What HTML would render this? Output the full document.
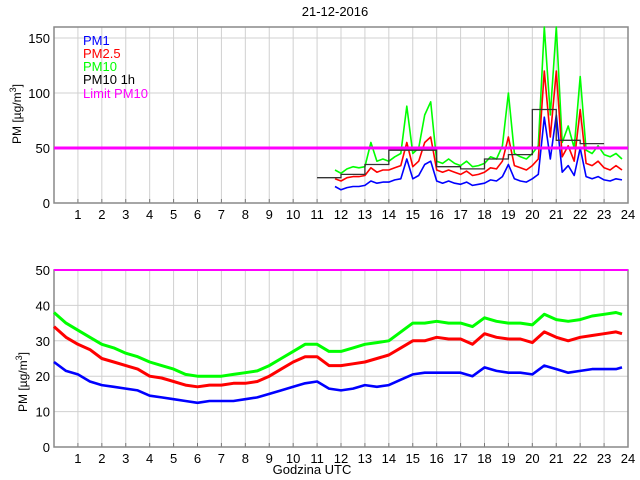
<!DOCTYPE html>
<html><head><meta charset="utf-8"><style>
body{margin:0;background:#fff}
svg{display:block;font-family:"Liberation Sans",sans-serif}
</style></head><body>
<svg id="c" width="640" height="480" xmlns="http://www.w3.org/2000/svg"></svg>
<script>
const hourTicks=[1,2,3,4,5,6,7,8,9,10,11,12,13,14,15,16,17,18,19,20,21,22,23,24];
const topYTicks=[0,50,100,150];
const botYTicks=[0,10,20,30,40,50];
const limitPM10=50;
const topHours=[11.75,12,12.25,12.5,12.75,13,13.25,13.5,13.75,14,14.25,14.5,14.75,15,15.25,15.5,15.75,16,16.25,16.5,16.75,17,17.25,17.5,17.75,18,18.25,18.5,18.75,19,19.25,19.5,19.75,20,20.25,20.5,20.75,21,21.25,21.5,21.75,22,22.25,22.5,22.75,23,23.25,23.5,23.75];
const topPM10=[30,27,31,33,32,33,55,38,40,38,42,45,88,45,50,80,92,38,36,40,36,34,38,33,34,36,42,40,52,100,45,42,40,45,52,160,80,160,55,70,50,115,48,45,52,44,42,45,40];
const topPM25=[22,20,23,24,24,25,32,28,30,30,32,34,55,33,38,55,60,30,28,30,28,26,29,25,26,28,32,31,38,60,34,32,30,34,40,120,60,120,42,52,38,85,36,34,38,32,30,34,30];
const topPM1=[15,12,14,15,15,16,20,18,19,19,21,22,40,22,25,35,38,20,18,20,18,17,19,16,17,18,21,20,24,35,22,20,19,22,26,78,40,80,28,34,25,50,24,22,24,21,20,22,21];
const stepHours=[11,12,13,14,15,16,17,18,19,20,21,22];
const stepPM10=[23,26,35,48,48,33,31,40,44,85,57,54];
const botHours=[0,0.5,1,1.5,2,2.5,3,3.5,4,4.5,5,5.5,6,6.5,7,7.5,8,8.5,9,9.5,10,10.5,11,11.5,12,12.5,13,13.5,14,14.5,15,15.5,16,16.5,17,17.5,18,18.5,19,19.5,20,20.5,21,21.5,22,22.5,23,23.5,23.75];
const botPM10=[38,35,33,31,29,28,26.5,25.5,24,23,22,20.5,20,20,20,20.5,21,21.5,23,25,27,29,29,27,27,28,29,29.5,30,32.5,35,35,35.5,35,35,34,36.5,35.5,35,35,34.5,37.5,36,35.5,36,37,37.5,38,37.5];
const botPM25=[34,31,29,27.5,25,24,23,22,20,19.5,18.5,17.5,17,17.5,17.5,18,18,18.5,20,22,24,25.5,25.5,23,23,23.5,24,25,26,28,30,30,31,30.5,30.5,29,32,31,30.5,30.5,29.5,32.5,31,30,31,31.5,32,32.5,32];
const botPM1=[24,21.5,20.5,18.5,17.5,17,16.5,16,14.5,14,13.5,13,12.5,13,13,13,13.5,14,15,16,17,18,18.5,16.5,16,16.5,17.5,17,17.5,19,20.5,21,21,21,21,20,22.5,21.5,21,21,20.5,23,22,21,21.5,22,22,22,22.5];

const NS="http://www.w3.org/2000/svg";
const svg=document.getElementById('c');
function mk(tag,attrs,parent){const e=document.createElementNS(NS,tag);for(const k in attrs)e.setAttribute(k,attrs[k]);(parent||svg).appendChild(e);return e;}
const X0=54,X1=628;
const xs=h=>X0+h*(X1-X0)/24;
function panel(name,top,bot,ymax,yTicks){
  const ys=v=>bot-v*(bot-top)/ymax;
  const g=mk('g',{});
  
  
  for(const h of hourTicks){if(h<24){const l=mk('line',{x1:xs(h),x2:xs(h),y1:top,y2:bot,stroke:'#d0d0d0','stroke-width':1},g);}
    const t=mk('text',{x:xs(h),y:bot+16,'font-size':13,'text-anchor':'middle',fill:'#000'},g);t.textContent=h;
    
    mk('line',{x1:xs(h),x2:xs(h),y1:bot,y2:bot-4,stroke:'#777'},g);}
  for(const v of yTicks){const y=ys(v);
    if(v>0&&v<ymax){const l=mk('line',{x1:X0,x2:X1,y1:y,y2:y,stroke:'#d0d0d0'},g);}
    const t=mk('text',{x:X0-4,y:y+5,'font-size':13,'text-anchor':'end',fill:'#000'},g);t.textContent=v;
    }
  mk('rect',{x:X0,y:top,width:X1-X0,height:bot-top,fill:'none',stroke:'#888','stroke-width':1.5},g);
  return {g,ys};
}
function line(g,hx,vals,ys,color,w,name,ymin){
  const pts=hx.map((h,i)=>xs(h).toFixed(1)+','+Math.max(ymin,ys(vals[i])).toFixed(1)).join(' ');
  const p=mk('polyline',{points:pts,fill:'none',stroke:color,'stroke-width':w,'stroke-linejoin':'round'},g);
  
}
const T=panel('top-panel',27,203,160,topYTicks);
line(T.g,topHours,topPM10,T.ys,'#00ff00',1.6,'pm10-series-top',27);
line(T.g,topHours,topPM25,T.ys,'#ff0000',1.6,'pm25-series-top',27);
line(T.g,topHours,topPM1,T.ys,'#0000ff',1.6,'pm1-series-top',27);
let sp=[];stepHours.forEach((h,i)=>{sp.push(xs(h)+','+T.ys(stepPM10[i]));sp.push(xs(h+1)+','+T.ys(stepPM10[i]));});
const st=mk('polyline',{points:sp.join(' '),fill:'none',stroke:'#333','stroke-width':1.3},T.g);

const lt=mk('line',{x1:X0,x2:X1,y1:T.ys(limitPM10),y2:T.ys(limitPM10),stroke:'#ff00ff','stroke-width':3},T.g);

const B=panel('bottom-panel',270,447,50,botYTicks);
line(B.g,botHours,botPM10,B.ys,'#00ff00',3,'pm10-series-bottom',270);
line(B.g,botHours,botPM25,B.ys,'#ff0000',3,'pm25-series-bottom',270);
line(B.g,botHours,botPM1,B.ys,'#0000ff',2.6,'pm1-series-bottom',270);
const lb=mk('line',{x1:X0,x2:X1,y1:B.ys(limitPM10),y2:B.ys(limitPM10),stroke:'#ff00ff','stroke-width':2},B.g);

</script>
<svg width="640" height="480" style="position:absolute;left:0;top:0" xmlns="http://www.w3.org/2000/svg">
<text x="335" y="16" font-size="13" text-anchor="middle">21-12-2016</text>
<g font-size="13">
<text x="83" y="45" fill="#0000ff">PM1</text>
<text x="83" y="58" fill="#ff0000">PM2.5</text>
<text x="83" y="71" fill="#00ff00">PM10</text>
<text x="83" y="84" fill="#000">PM10 1h</text>
<text x="83" y="98" fill="#ff00ff">Limit PM10</text>
</g>
<text transform="translate(21,144) rotate(-90)" font-size="12">PM [µg/m<tspan dy="-5" font-size="9">3</tspan><tspan dy="5">]</tspan></text>
<text transform="translate(27,412) rotate(-90)" font-size="12">PM [µg/m<tspan dy="-5" font-size="9">3</tspan><tspan dy="5">]</tspan></text>
<text x="312" y="474" font-size="13" text-anchor="middle">Godzina UTC</text>
</svg>
</body></html>
